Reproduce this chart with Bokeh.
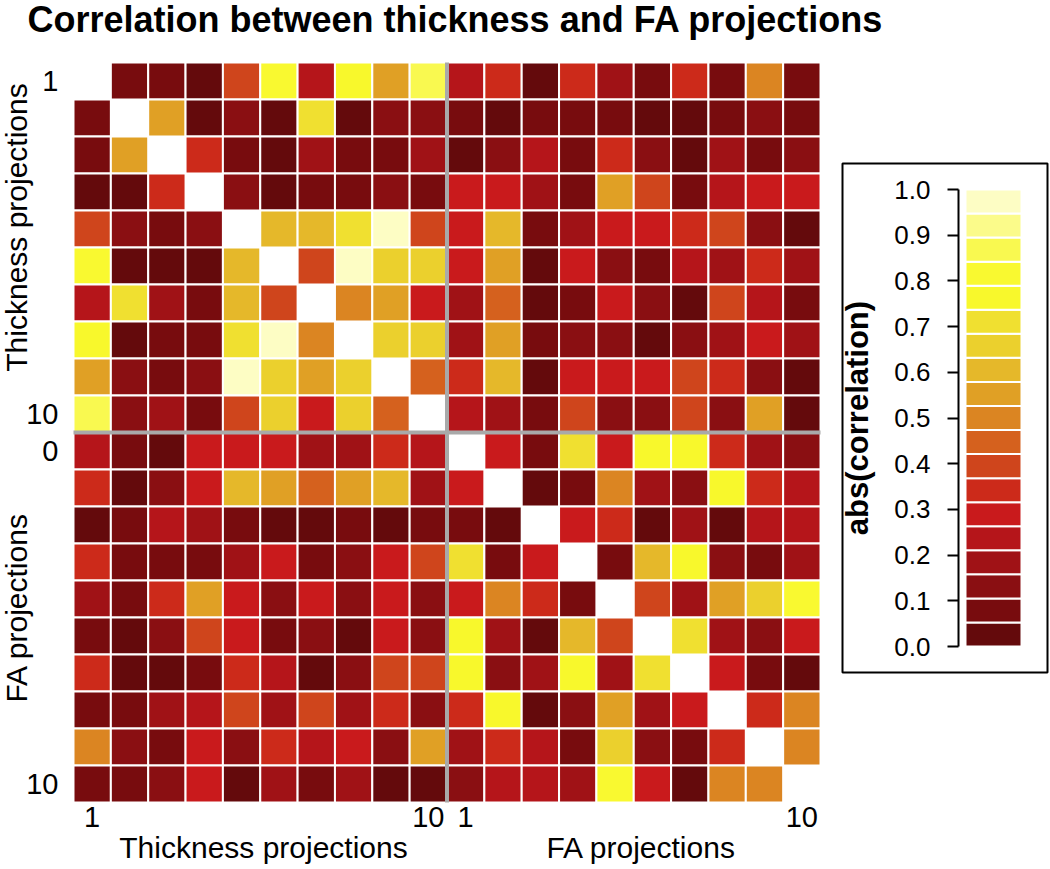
import numpy as np
from bokeh.plotting import figure
from bokeh.models import (Range1d, FixedTicker, Label, LinearAxis,
                          ColumnDataSource, LinearColorMapper, PrintfTickFormatter)
from bokeh.transform import transform
from bokeh.embed import file_html
from bokeh.resources import INLINE

# ---------------- data ----------------
title_text = "Correlation between thickness and FA projections"
x_titles = ["Thickness projections", "FA projections"]
y_titles = ["Thickness projections", "FA projections"]
tick_positions = [1, 10, 11, 20]
x_tick_labels = ["1", "10", "1", "10"]
y_tick_labels = ["1", "10", "0", "10"]
legend_title = "abs(correlation)"
legend_ticks = [0.0, 0.1, 0.2, 0.3, 0.4, 0.5, 0.6, 0.7, 0.8, 0.9, 1.0]

palette = ["#640a0c", "#780c0e", "#8a0f12", "#a01216", "#b5151a", "#c91a1c",
           "#cc2a1a", "#cf451c", "#d5611e", "#db8522", "#e0a025", "#e5b82a",
           "#ebd02d", "#f0e030", "#f8f82c", "#f9f930", "#f9f950", "#fbfb8a",
           "#fdfdc4"]

N = None
# thickness x thickness (symmetric, diagonal empty)
thick_thick = [
    [N, .08, .08, .03, .39, .82, .24, .76, .55, .87],
    [.08, N, .55, .03, .13, .03, .71, .03, .13, .13],
    [.08, .55, N, .34, .08, .03, .18, .08, .08, .18],
    [.03, .03, .34, N, .13, .03, .08, .08, .13, .08],
    [.39, .13, .08, .13, N, .61, .61, .71, .97, .39],
    [.82, .03, .03, .03, .61, N, .39, .97, .66, .66],
    [.24, .71, .18, .08, .61, .39, N, .50, .55, .29],
    [.76, .03, .08, .08, .71, .97, .50, N, .66, .66],
    [.55, .13, .08, .13, .97, .66, .55, .66, N, .45],
    [.87, .13, .18, .08, .39, .66, .29, .66, .45, N],
]
# thickness (rows) x FA (columns)
thick_fa = [
    [.24, .34, .03, .34, .18, .08, .34, .08, .50, .08],
    [.08, .03, .08, .08, .08, .03, .03, .08, .13, .08],
    [.03, .13, .24, .08, .34, .13, .03, .18, .08, .13],
    [.29, .29, .18, .08, .55, .39, .08, .24, .29, .29],
    [.29, .61, .08, .18, .29, .29, .34, .39, .13, .03],
    [.29, .55, .03, .29, .13, .08, .24, .18, .34, .18],
    [.18, .45, .03, .08, .29, .13, .03, .39, .24, .08],
    [.18, .55, .08, .13, .13, .03, .13, .18, .29, .18],
    [.34, .61, .03, .29, .29, .29, .39, .34, .13, .03],
    [.24, .18, .08, .39, .13, .13, .39, .13, .55, .03],
]
# FA x FA (symmetric, diagonal empty)
fa_fa = [
    [N, .29, .08, .71, .29, .76, .76, .34, .18, .13],
    [.29, N, .03, .08, .50, .18, .13, .76, .34, .24],
    [.08, .03, N, .29, .34, .03, .18, .03, .24, .24],
    [.71, .08, .29, N, .08, .61, .76, .13, .08, .18],
    [.29, .50, .34, .08, N, .39, .18, .55, .66, .82],
    [.76, .18, .03, .61, .39, N, .71, .18, .13, .29],
    [.76, .13, .18, .76, .18, .71, N, .29, .08, .03],
    [.34, .76, .03, .13, .55, .18, .29, N, .34, .50],
    [.18, .34, .24, .08, .66, .13, .08, .34, N, .50],
    [.13, .24, .24, .18, .82, .29, .03, .50, .50, N],
]

# ---------------- layout constants (pixels) ----------------
W, H = 1050, 869
heat_x0, heat_y0 = 73, 62          # top-left corner of the heatmap
cell_w, cell_h = 37.35, 37.0
cb_top, cb_bottom = 189, 646        # colour bar 1.0 / 0.0 positions
cb_x0, cb_x1 = 965, 1021
cb_axis_x = 958
box_x0, box_x1, box_y0, box_y1 = 842, 1047, 163, 672

# ---------------- build ----------------
tt = np.array(thick_thick, dtype=float)
tf = np.array(thick_fa, dtype=float)
ff = np.array(fa_fa, dtype=float)
full = np.block([[tt, tf], [tf.T, ff]])
n = full.shape[0]

xs, ys, vs = [], [], []
for i in range(n):
    for j in range(n):
        if not np.isnan(full[i, j]):
            xs.append(j + 1)
            ys.append(i + 1)
            vs.append(full[i, j])
src = ColumnDataSource(dict(x=xs, y=ys, v=vs))

mapper = LinearColorMapper(palette=palette, low=0, high=1)
FONT = "Liberation Sans"

x_range = Range1d(0.5 - heat_x0 / cell_w, 0.5 + (W - heat_x0) / cell_w)
y_range = Range1d(0.5 + (H - heat_y0) / cell_h, 0.5 - heat_y0 / cell_h)

p = figure(width=W, height=H, x_range=x_range, y_range=y_range,
           x_axis_type=None, y_axis_type=None,
           output_backend="svg", toolbar_location=None,
           min_border=0, min_border_left=0, min_border_right=0,
           min_border_top=0, min_border_bottom=0)
p.grid.visible = False
p.outline_line_color = None
p.extra_x_ranges = {"px": Range1d(0, W)}
p.extra_y_ranges = {"px": Range1d(H, 0),
                    "cb": Range1d((cb_bottom - H) / (cb_bottom - cb_top),
                                  cb_bottom / (cb_bottom - cb_top))}

p.rect(x="x", y="y", width=1, height=1, source=src,
       fill_color=transform("v", mapper), line_color="white", line_width=2)

sep = (n // 2) + 0.5
p.segment(x0=[sep, 0.5], y0=[0.5, sep], x1=[sep, n + 0.5], y1=[n + 0.5, sep],
          line_color="#a9a9a9", line_width=4)

xax = LinearAxis(fixed_location=n + 0.5)
yax = LinearAxis(fixed_location=0.5)
for ax, labels, standoff in ((xax, x_tick_labels, 4), (yax, y_tick_labels, 15)):
    ax.ticker = FixedTicker(ticks=tick_positions)
    ax.major_label_overrides = {t: l for t, l in zip(tick_positions, labels)}
    ax.axis_line_color = None
    ax.major_tick_line_color = None
    ax.minor_tick_line_color = None
    ax.major_tick_out = 0
    ax.major_tick_in = 0
    ax.major_label_standoff = standoff
    ax.major_label_text_font = FONT
    ax.major_label_text_font_size = "29px"
    ax.major_label_text_color = "black"
p.add_layout(xax, "below")
p.add_layout(yax, "left")

# axis titles
for xpos, txt in zip([263, 641], x_titles):
    p.add_layout(Label(x=xpos, y=847, x_range_name="px", y_range_name="px",
                       text=txt, text_align="center", text_baseline="alphabetic",
                       text_font=FONT, text_font_size="30px", text_color="black"))
for ypos, txt in zip([227, 607], y_titles):
    p.add_layout(Label(x=16, y=ypos, x_range_name="px", y_range_name="px",
                       text=txt, angle=np.pi / 2, text_align="center",
                       text_baseline="alphabetic", text_font=FONT,
                       text_font_size="30px", text_color="black"))

p.add_layout(Label(x=27, y=19, x_range_name="px", y_range_name="px",
                   text=title_text, text_align="left", text_baseline="alphabetic",
                   text_font=FONT, text_font_style="bold", text_font_size="36px",
                   text_color="black"))

# ---------------- legend ----------------
k = len(palette)
edges = np.linspace(0, 1, k + 1)
mids = (edges[:-1] + edges[1:]) / 2
lsrc = ColumnDataSource(dict(y=mids, h=np.diff(edges), v=mids))

p.rect(x=(cb_x0 + cb_x1) / 2, y="y", width=cb_x1 - cb_x0, height="h", source=lsrc,
       x_range_name="px", y_range_name="cb",
       fill_color=transform("v", mapper), line_color="white", line_width=2)

v0 = (cb_bottom - box_y1) / (cb_bottom - cb_top)
v1 = (cb_bottom - box_y0) / (cb_bottom - cb_top)
p.rect(x=(box_x0 + box_x1) / 2, y=(v0 + v1) / 2, width=box_x1 - box_x0, height=v1 - v0,
       x_range_name="px", y_range_name="cb",
       fill_color=None, line_color="black", line_width=2)

cb_axis = LinearAxis(x_range_name="px", y_range_name="cb",
                     fixed_location=cb_axis_x, bounds=(0, 1))
cb_axis.ticker = FixedTicker(ticks=legend_ticks)
cb_axis.formatter = PrintfTickFormatter(format="%.1f")
cb_axis.axis_line_width = 2
cb_axis.major_tick_line_width = 2
cb_axis.major_tick_out = 11
cb_axis.major_tick_in = 0
cb_axis.minor_tick_line_color = None
cb_axis.major_label_standoff = 17
cb_axis.major_label_text_font = FONT
cb_axis.major_label_text_font_size = "26px"
cb_axis.major_label_text_color = "black"
cb_axis.axis_label = legend_title
cb_axis.axis_label_text_font = FONT
cb_axis.axis_label_text_font_style = "bold"
cb_axis.axis_label_text_font_size = "31px"
cb_axis.axis_label_text_color = "black"
cb_axis.axis_label_standoff = 16
p.add_layout(cb_axis, "left")

open("out.html", "w").write(file_html(p, INLINE))
